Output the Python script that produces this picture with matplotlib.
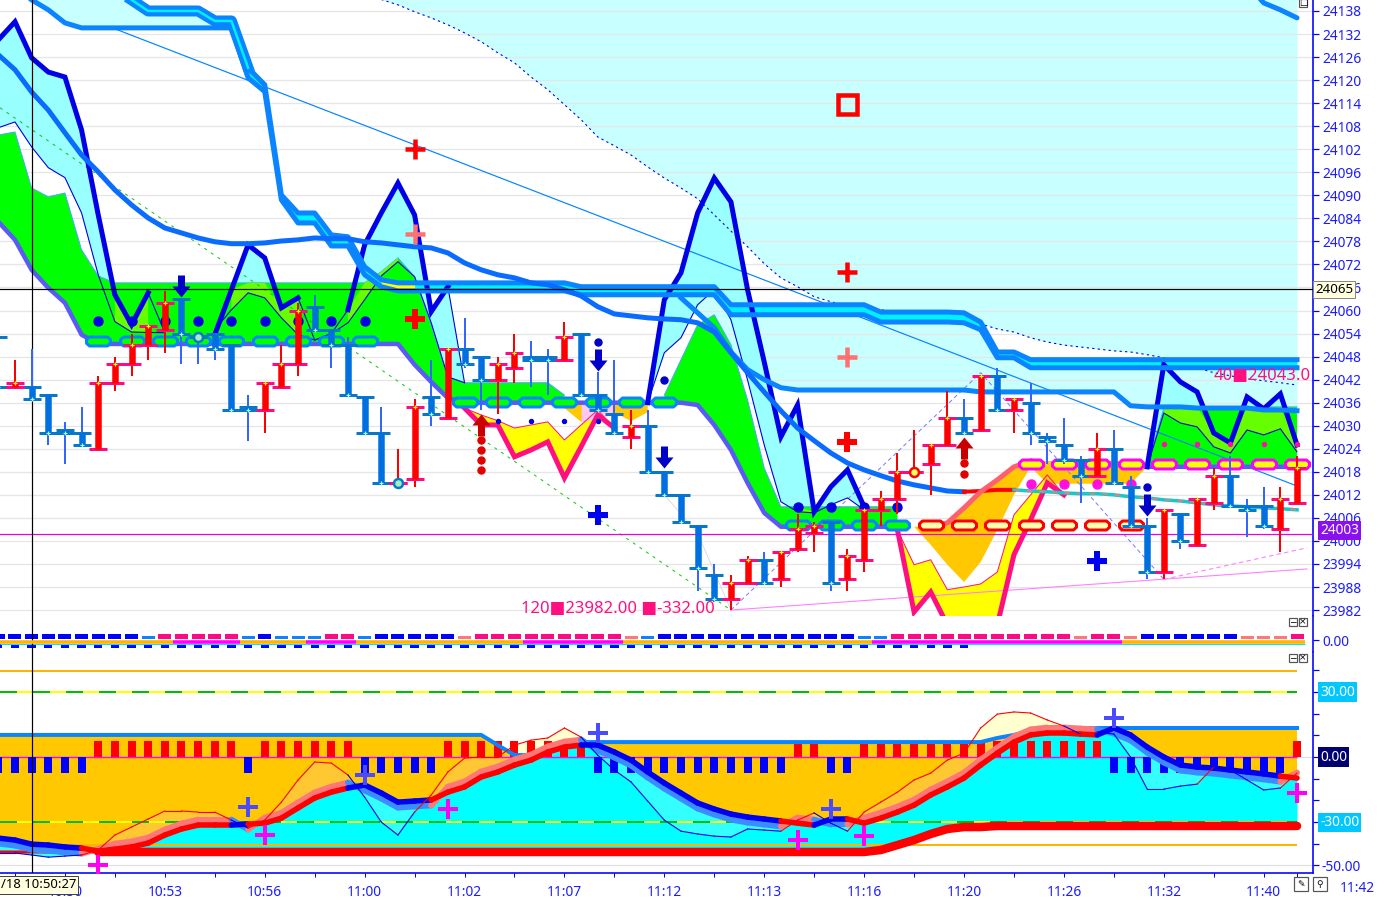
import numpy as np
import matplotlib
matplotlib.use("Agg")
import matplotlib.pyplot as plt
from matplotlib.path import Path
from matplotlib.patches import Rectangle

plt.rcParams['font.family'] = ['Noto Sans', 'DejaVu Sans']

n = np.nan
BASE = 24000
bars = np.arange(-1, 78)

# candles, prices minus BASE
opens = [53,40,40,38,29,28,24,41,46,51,55,63,53.3,54,51,35,34,40,46,61,55,51,37.5,28,15,16,37.5,32,50,48,42,45,48,48,47,54,38,33,27,30,18,12,4,-9,-15,-11,-5,-10,-2,2,5,-10,-5,8,11,18,20,25,32,29,43,34,36,27,25,21,17,24,14,4,-8,7,-1,10,17,9,9,3,10]
closes = [40,41,37,28,28,25,41,46,51,56,62,54,53,50,34,34,41,46,60,55,51,38,28,15,15,35,33,50,46,42,46,49,47,47,53,38,34,28,30,18,12,5,-7,-15,-11,-5,-11,-3,3,4,-11,-4,8,11,18,18,25,32,28,43,34,37,28,26,21,17,24,15,4,-8,8,0,11,17,9,8,4,11,19]
highs = [53,47,50,38,31,35,43,48,54,56,65,63,53.3,54,51,38,41,51,62,64,55,53,37.5,35,24,37,47,50,58,48,48,54,52,50,57,54,44,47,34,34,18,12,4,-6,-9,-4,-3,-3,7,5,5,-2,8,13,23,29,25,39,37,43,45,37,41,28,32,22,28,29,17,6,8,7,11,19,22,11,14,14,22]
lows = [40,40,37,25,20,25,24,39,43,47,49,46,46,47,34,26,28,40,43,55,45,38,28,15,15,14,30,32,45,34,33,41,40,38,47,38,34,28,24,18,12,5,-13,-16,-18,-11,-11,-12,-3,-3,-13,-13,-8,4,7,18,12,25,28,29,34,28,25,20,20,10,17,15,4,-10,-10,-2,-1,8,9,1,3,-3,10]
ring_bars = [11, 23, 54]

# upper channel and averages
fast_line = [130.5,135.2,125.8,122.1,120.8,107.0,84.9,64.1,56.3,64.6,n,n,n,53.7,65.4,77.1,73.7,60.7,63.3,n,n,60.2,77.1,85.4,93.2,84.9,59.7,66.2] + [n]*11 + [36.0,62.8,69.8,85.4,94.5,88.3,65.4,46.6,27.1,35.4,7.6,14.1,18.5,8.9] + [n]*16 + [19.3,45.9,41.4,38.8,28.1,25.5,37.5,34.4,38.3,25.0]
fast_thin_bars = [9, 18, 19, 27]
fast_thin_vals = [54.2, 52.3, 54.0, 41.2]
thin_line = [107.6,109.1,102.6,97.2,94.6,85.4,69.3,57.1,54.4,54.3,54.2,n,n,55.0,60.2,64.6,63.3,58.1,53.7,52.3,54.0,56.8,62.8,69.0,72.7,68.8,56.8,42.7,41.2] + [n]*10 + [36.0,49.0,52.9,61.5,65.4,57.6,41.9,25.0,10.2,7.6,7.3,9.4,11.2,8.1] + [n]*16 + [19.3,33.3,30.7,29.7,24.5,22.9,28.9,27.6,29.2,23.2]
green_top = [105.7,106.5,91.9,89.6,90.6,75.8,69.0] + [67.2]*16 + [70.1,73.7,68.8,56.3,42.7] + [41.2]*6 + [38.0] + [n]*5 + [38.0,47.2,56.3,58.9,51.1,36.7,19.0,8.9] + [8.9]*7 + [n]*14 + [19.3,34.6] + [34.9]*8
green_bottom = [83.1,78.4,70.6,65.9,62.0,53.7] + [51.3]*19 + [45.9,41.4,37.2] + [36.0]*14 + [35.4,30.2,23.7,15.1,7.3,3.7] + [3.7]*7 + [n]*14 + [19.3]*10
mid_curve = [126.6,122.7,116.9,112.2,106.3,100.5,96.1,91.4,87.5,84.1,81.5,80.2,78.9,77.9,77.4,77.4,77.6,78.1,78.4,78.9,78.7,78.7,77.9,77.6,77.1,76.6,76.3,75.0,72.4,70.6,69.3,68.5,67.2,66.7,65.4,63.8,61.0,59.1,58.6,58.1,57.8,57.6,56.8,54.4,49.0,43.8,38.8,33.9,29.4,26.1,22.9,20.3,18.5,17.0,15.6,14.6,13.8,13.0,12.8,13.0,13.3,13.3,13.0,12.8,12.5,12.3,12.3,12.0,11.5,11.2,10.7,10.4,9.9,9.4,9.1,8.9,8.6,8.4,8.1]
band_upper = [n,n] + [142.0]*6 + [140.9] + [138.0]*4 + [135.4,135.4,123.2,118.8,90.1,85.4,85.4,79.7,79.2,71.4,68.0] + [67.2]*11 + [66.2]*9 + [61.5]*9 + [59.6]*5 + [59.4,57.0,49.2,49.2] + [47.2]*17
band_lower = [n,n,140.9,138.3,134.9] + [133.6]*10 + [120.6,117.0,88.8,82.8,82.8,76.8,76.8,69.3,66.2] + [65.1]*11 + [64.1]*9 + [58.9]*9 + [57.0]*5 + [56.8,55.0,47.7,47.7] + [45.1]*17
base_line = [n]*41 + [63.3,59.4,55.5,49.2,44.6,42.0,39.9] + [39.3]*11 + [38.8]*9 + [35.2,34.9,34.9,34.9,34.6,34.6,34.6,34.6,34.1,34.1,33.9]
cloud_edge = [n]*23 + [141,139.6,137.8,136.2,134.4,132.3,130,127.1,124.5,120.8,117.5,113.6,109.7,105.2,102.9,100.5,97.4,94.5,91.9,89.1,84.9,80.7,76.6,72.2,68.5,66.2,63.6,62.3,61.2,60.7,60.2,59.7,59.1,58.3,57.6,57,56.5,55.2,54.4,52.9,51.8,51,50.5,50,49.5,49.2,48.5,47.7,46.4,45.1,43.8,43,42.2,41.7,41.2,40.6]
top_right_bars = [74, 75, 76, 77]
top_right_vals = [145.0, 140.1, 138.3, 136.2]
yellow_band_bars = [22, 23, 24]

# lower channel
pink_line = [n]*28 + [34.6,30.2,30.2,21.9,23.7,25.8,16.4,24.5,32.8,29.4] + [n]*16 + [2.9,-18.5,-13.3,-21.9,-21.9,-21.9,-21.9,-3.6,5.5,15.1,12.0] + [n]*14
yellow_top = [n]*28 + [34.6,32.8,31.3,29.4,30.2,31.0,26.3,30.2,34.1,29.4] + [n]*16 + [2.9,-6.2,-4.9,-12.7,-12.0,-11.2,-8.1,6.8,12.0,17.2,12.0] + [n]*14
orange_top = [n]*34 + [36.0]*6 + [n]*14 + [3.7,3.7,3.7,4.7,8.6,12.8,15.9,19.3] + [20.8]*7 + [19.3] + [n]*9
orange_low = [n]*34 + [34.6,31.0,34.1,33.5,31.2,33.5] + [n]*14 + [3.7,3.7,-1.0,-6.2,-10.7,-5.5,2.9,12.0,19.3] + [14.9]*6 + [19.3] + [n]*9
pale_pink_bars = [34, 35, 36]
pale_pink_low = [31.0, 32.0, 33.0]

# straight study lines: (bars, prices)
diag_bars, diag_vals = [1.5, 77.0], [140.9, 14.3]
green_dash_bars, green_dash_vals = [-0.9, 43.0], [112.8, -18.0]
zig_bars, zig_vals = [43, 58, 69], [-18.0, 43.8, -10.0]
pale_bars, pale_vals = [43.0, 77.6], [-18.0, -7.3]
pale_dash_bars, pale_dash_vals = [69.0, 77.6], [-10.0, -1.8]
gray_bars, gray_vals = [39, 41, 43], [12.0, 2.0, -18.0]

# capsules and dots
green_caps_1 = [5, 7, 9, 11, 13, 15, 17, 19, 21]
green_caps_2 = [27, 29, 31, 33, 35, 37, 39]
green_caps_3 = [47, 49, 51, 53]
red_caps = [55, 57, 59, 61, 63, 65, 67]
magenta_caps = [61, 63, 65, 67, 69, 71, 73, 75, 77]
caps_1_val, caps_2_val, caps_3_val, caps_4_val = 52.0, 36.2, 4.2, 20.0
blue_dots = [5, 7, 9, 11, 13, 15, 17, 19, 21]
blue_dots_val = 57.2
small_blue_dots = [29, 31, 33, 35]
small_blue_val = 31.3
low_blue_dots = [47, 49, 51, 53]
low_blue_val = 8.9
magenta_dots = [61, 63, 65, 67]
magenta_dots_val = 14.9
small_pink_dots = [69, 71, 73, 75, 77]
small_pink_val = 25.2

red_plus = ([24, 50], [102.0, 70.1])
pale_plus = ([24, 50], [80.0, 48.0])
red_bold_plus = ([24, 50], [57.8, 25.8])
blue_bold_plus = ([35, 65], [6.8, -5.2])
square_sig = ([50], [113.8])
down_arrows = ([10, 35, 39, 68], [66.4, 47.1, 21.9, 9.4])
up_arrows = ([28, 57], [30.2, 24.2])
red_dots = ([28, 28, 28, 28, 57, 57], [26.3, 23.7, 21.1, 18.4, 20.3, 17.5])
navy_dots = ([35, 39, 68], [51.8, 42.0, 14.1])

# second pane
top_state = list('bbbbbbbbb' 'l' 'ppppp' 'l' 'b' 'lll' 'pp' 'l' 'bbbbb' 's' 'ppppppppp' 's' 'l' 'bbbbbbbbbbbb' 'll' 'ppppppppppp' 's' 'pp' 's' 'bbbbbb' 'sss' 'p')
lower_dash_last = 57
magenta_runs = [(10, 13), (18, 20), (31, 36), (52, 66)]

# third pane
up_runs = [(5, 13), (15, 20), (26, 34), (47, 48), (51, 65), (77, 77)]
upper_level = [10.2]*30 + [5.5,0.9,0.9,2.3,4.2] + [6.9]*25 + [8.8,10.2,12.0] + [13.4]*16
osc = [-37.4,-38.3,-40.2,-40.6,-41.5,-42,-43.4,-42.5,-41.5,-39.7,-36,-33.2,-31.4,-31.4,-31.4,-30.9,-30.5,-28.2,-23.5,-18.9,-16.2,-14.3,-12.9,-16.6,-20.8,-20.3,-19.8,-16.2,-13.8,-9.2,-6.9,-3.7,-1.4,2.3,4.6,5.5,5.5,2.3,-1.4,-6.9,-12,-16.6,-21.2,-24,-26.3,-27.7,-28.6,-29.5,-30.5,-31.4,-28.6,-28.6,-30.5,-28.2,-25.4,-22.2,-17.5,-13.8,-9.7,-3.7,1.8,6.9,10.2,11.1,11.1,10.6,10.2,13.4,10.2,4.6,0,-3.7,-4.6,-5.1,-6,-6.9,-7.8,-8.8,-9.7]
osc_band = [-39.9,-40.8,-42.7,-43.1,-44,-44.5,-42.4,-40,-39,-37.2,-33.5,-30.7,-28.9,-28.9,-28.9,-33.4,-28,-25.7,-21,-16.4,-13.7,-11.8,-15.4,-19.1,-23.3,-22.8,-22.3,-13.7,-11.3,-6.7,-4.4,-1.2,1.1,4.8,7.1,8,3,-0.2,-3.9,-9.4,-14.5,-19.1,-23.7,-26.5,-28.8,-30.2,-31.1,-32,-28,-28.9,-31.1,-31.1,-28,-25.7,-22.9,-19.7,-15,-11.3,-7.2,-1.2,4.3,9.4,12.7,13.6,13.6,13.1,12.7,10.9,7.7,2.1,-2.5,-6.2,-7.1,-7.6,-8.5,-9.4,-10.3,-11.3,-7.2]
osc_thin = [-44.3,-44.3,-45.2,-46.2,-45.7,-45.2,-42.9,-36,-32.3,-28.6,-24.9,-24.9,-25.4,-25.4,-29.1,-32.8,-29.1,-20.8,-10.6,-2.3,-2.8,-8.3,-18.5,-30,-36,-25.4,-17.5,-6.9,-0.5,0,0,5.5,7.8,8.8,13.4,9.2,0.9,-6,-11.5,-20.3,-29.1,-34.2,-35.5,-36.5,-36.9,-33.2,-33.7,-34.2,-29.1,-25.8,-30.5,-34.2,-25.4,-20.8,-16.2,-10.6,-7.4,-1.4,1.8,13.4,19.8,20.8,20.3,17.1,14.3,10.6,11.5,10.6,0,-14.8,-14.8,-13.4,-12.5,-4.6,-6,-10.6,-15.2,-14.3,-7.4]
floor_line = [-43.8]*53 + [-42.9,-40.6,-38.3,-35.5,-33.2,-32.3,-32.3] + [-31.8]*19
blue_plus_3 = ([14, 21, 35, 49, 66], [-23.1, -8.3, 11.1, -24.0, 18.0])
magenta_plus_3 = ([5, 15, 26, 47, 51, 77], [-49.8, -36.0, -24.0, -38.3, -36.5, -16.6])

price_ticks = list(range(23982, 24139, 6))
osc_ticks = [40, 30, 20, 10, 0, -10, -20, -30, -40, -50]
time_bars = [3, 9, 15, 21, 27, 33, 39, 45, 51, 57, 63, 69, 75]
time_labels = ['10:50', '10:53', '10:56', '11:00', '11:02', '11:07', '11:12', '11:13', '11:16', '11:20', '11:26', '11:32', '11:40']

W, H = 1384, 900
BLUE_TXT = '#1c1cff'
AXIS_BLUE = '#0000ff'
LINE_BLUE = '#0a84ff'


def px(v):
    return v * 0.72


def pane(top, bottom, right=1313):
    ax = fig.add_axes([0, 1 - bottom / H, right / W, (bottom - top) / H])
    ax.set_xlim(-0.90, 77.96)
    for s in ['top', 'left', 'bottom']:
        ax.spines[s].set_visible(False)
    ax.spines['right'].set_color(AXIS_BLUE)
    ax.spines['right'].set_linewidth(px(1.6))
    ax.yaxis.tick_right()
    ax.tick_params(axis='y', colors=AXIS_BLUE, labelcolor=BLUE_TXT, length=px(6), width=px(1.2), pad=px(3), labelsize=9.9)
    ax.set_xticks([])
    return ax


def capsule_path():
    return Path([(-12, -1.8), (-9, -4.5), (9, -4.5), (12, -1.8), (12, 1.8), (9, 4.5), (-9, 4.5), (-12, 1.8), (-12, -1.8)], closed=True)


def arrow_path(down=True):
    s = 1 if down else -1
    return Path([(-3.5, 11*s), (3.5, 11*s), (3.5, 0), (9, 0), (0, -11*s), (-9, 0), (-3.5, 0), (-3.5, 11*s)], closed=True)


def runs_mask(runs):
    mask = np.zeros(len(bars), dtype=bool)
    for a, b in runs:
        mask[(bars >= a) & (bars <= b)] = True
    return mask


def small_box(x, y, size, label=None, face='white'):
    fig.add_artist(Rectangle((x / W, 1 - (y + size) / H), size / W, size / H, transform=fig.transFigure, fc=face, ec='#555555', lw=px(1.2), zorder=20))
    if label:
        fig.text((x + size / 2) / W, 1 - (y + size / 2) / H, label, ha='center', va='center', fontsize=6.5, color='black', zorder=21, family='DejaVu Sans')


fig = plt.figure(figsize=(W / 100, H / 100), dpi=100, facecolor='white')

# ---- main pane
ax = pane(0, 616)
ax.set_ylim(23980.45, 24140.86)
ax.set_yticks(price_ticks)
ax.set_yticklabels([str(t) for t in price_ticks])

to_price = lambda v: BASE + np.array(v, dtype=float)
fast = to_price(fast_line)
fast_edge = fast.copy()
fast_edge[np.array(fast_thin_bars) + 1] = to_price(fast_thin_vals)
thin = to_price(thin_line)
gtop = to_price(green_top)
gbot = to_price(green_bottom)
mid = to_price(mid_curve)
up1 = to_price(band_upper)
low1 = to_price(band_lower)
base = to_price(base_line)
edge = to_price(cloud_edge)
pink = to_price(pink_line)
ytop = to_price(yellow_top)
otop = to_price(orange_top)
olow = to_price(orange_low)

ok = np.isfinite
ax.fill_between(bars, edge, 24142, where=ok(edge), color='#c8ffff', lw=0, zorder=1)
ax.fill_between(bars, low1, base, where=ok(base), color='#c8ffff', lw=0, zorder=1)
for t in price_ticks:
    ax.axhline(t, color='#e6e6e6', lw=px(1.3), zorder=1.5)

ax.fill_between(bars, fast_edge, thin, where=ok(fast_edge) & ok(thin), color='#99ffff', lw=0, zorder=2)
ax.fill_between(bars, gtop, gbot, where=ok(gtop) & ok(gbot), color='#00ff00', lw=0, zorder=2.1)
ax.plot(bars, gtop, color='#4aa8ff', lw=px(1), zorder=2.15)
lime_top = np.minimum(fast_edge, gtop)
lime_bot = np.maximum(thin, gbot)
lime = ok(lime_top) & ok(lime_bot)
lime[lime] = lime_top[lime] > lime_bot[lime]
ax.fill_between(bars, lime_top, lime_bot, where=lime, color='#66ff00', lw=0, zorder=2.2)

ax.fill_between(bars, ytop, pink, where=ok(pink), color='#ffff00', lw=0, zorder=2.1)
ax.fill_between(bars, otop, olow, where=ok(otop), color='#ffc800', lw=0, zorder=2.15)
ax.fill_between(pale_pink_bars, BASE + 36.0, BASE + np.array(pale_pink_low), color='#ffc8f0', lw=0, zorder=2.16)
ax.plot(bars, ytop, color='#ff1080', lw=px(1), zorder=2.3)
ax.plot(bars, pink, color='#ff1080', lw=px(5), zorder=2.6, solid_joinstyle='miter')

ax.plot(np.array(diag_bars), BASE + np.array(diag_vals), color=LINE_BLUE, lw=px(1.2), zorder=2.5)
ax.plot(green_dash_bars, BASE + np.array(green_dash_vals), color='#10c810', lw=px(1), ls=(0, (3, 5)), zorder=2.5)
ax.plot(zig_bars, BASE + np.array(zig_vals), color='#7a7aff', lw=px(1), ls=(0, (4, 3)), zorder=2.5)
ax.plot(pale_bars, BASE + np.array(pale_vals), color='#ff80ff', lw=px(1.1), zorder=2.5)
ax.plot(pale_dash_bars, BASE + np.array(pale_dash_vals), color='#ff80ff', lw=px(1.1), ls=(0, (4, 3)), zorder=2.5)
ax.plot(gray_bars, BASE + np.array(gray_vals), color='#dddddd', lw=px(1), zorder=2.4)
ax.plot(bars, edge, color='#0000e0', lw=px(1.1), ls=(0, (2, 3)), zorder=2.5)

ax.plot(bars, thin, color='#0000e0', lw=px(1.1), zorder=2.7)
ax.plot(bars, fast_edge, color='#0000e0', lw=px(1.1), zorder=2.7)
ax.plot(bars, fast, color='#0000e6', lw=px(5), zorder=3, solid_joinstyle='miter')
ax.plot(bars, gbot, color='#5a5af5', lw=px(4.5), zorder=2.8)

ax.fill_between(bars, up1, low1, where=ok(up1) & (bars <= 13), color='#c8ffff', lw=0, zorder=2.9)
ax.fill_between(bars, up1, low1, where=ok(up1) & (bars >= 13), color='#00f0ff', lw=0, zorder=2.9)
band_yellow = np.isin(bars, yellow_band_bars)
ax.fill_between(bars, up1, low1, where=band_yellow, color='#ffff00', lw=0, zorder=2.95)
ax.plot(bars, up1, color=LINE_BLUE, lw=px(5), zorder=3.1)
ax.plot(bars, low1, color=LINE_BLUE, lw=px(5), zorder=3.1)
ax.plot(bars, base, color=LINE_BLUE, lw=px(5), zorder=3.1)
pair = (bars >= 7) & (bars <= 14)
ax.plot(bars[pair], up1[pair], color=LINE_BLUE, lw=px(11), zorder=3.12)
ax.plot(bars[pair], up1[pair], color='#00f0ff', lw=px(2.5), zorder=3.13)

blue_part = bars <= 57
ax.plot(bars[blue_part], mid[blue_part], color='#0a6cff', lw=px(5), zorder=3.2)
red_part = (bars >= 57) & (bars <= 60)
ax.plot(bars[red_part], mid[red_part], color='#ff0000', lw=px(4), zorder=3.2)
teal_part = bars >= 60
ax.plot(bars[teal_part], mid[teal_part], color='#18c8c8', lw=px(3.5), zorder=3.2)
ax.plot(bars[teal_part], mid[teal_part], color='#ff7878', lw=px(1.4), ls=(0, (4, 5)), zorder=3.25)
k_part = (bars >= 55) & (bars <= 61)
ax.plot(bars[k_part], otop[k_part], color='#ff6070', lw=px(5), zorder=3.2)
ax.plot(top_right_bars, BASE + np.array(top_right_vals), color=LINE_BLUE, lw=px(5), zorder=3.2, solid_capstyle='round')

# crosshair and price lines
ax.axhline(24065.6, color='black', lw=px(1.2), zorder=3.5)
ax.axhline(24001.9, color='#e800e8', lw=px(1.2), zorder=3.5)
ax.axvline(1, color='black', lw=px(1.2), zorder=3.5)

# capsules
caps = capsule_path()
cap_sets = [(green_caps_1, caps_1_val, '#00ff00', LINE_BLUE), (green_caps_2, caps_2_val, '#00ff00', LINE_BLUE),
            (green_caps_3, caps_3_val, '#00ff00', LINE_BLUE), (red_caps, caps_3_val, '#ffffb0', '#ff0000'),
            (magenta_caps, caps_4_val, '#ffff00', '#ff00ff')]
for xs, val, face, edgec in cap_sets:
    ax.plot(xs, [BASE + val]*len(xs), ls='none', marker=caps, ms=px(24), mfc=face, mec=edgec, mew=px(3), zorder=4)

ax.plot(blue_dots, [BASE + blue_dots_val]*len(blue_dots), ls='none', marker='o', ms=px(9), color='#0000e0', zorder=4.1)
ax.plot(small_blue_dots, [BASE + small_blue_val]*len(small_blue_dots), ls='none', marker='o', ms=px(4), color='#0000e0', zorder=4.1)
ax.plot(low_blue_dots, [BASE + low_blue_val]*len(low_blue_dots), ls='none', marker='o', ms=px(9), color='#0000e0', zorder=4.1)
ax.plot(magenta_dots, [BASE + magenta_dots_val]*len(magenta_dots), ls='none', marker='o', ms=px(9), color='#ff10e0', zorder=4.1)
ax.plot(small_pink_dots, [BASE + small_pink_val]*len(small_pink_dots), ls='none', marker='o', ms=px(4), color='#ff10a0', zorder=4.1)

# candles
o = to_price(opens)
c = to_price(closes)
h = to_price(highs)
l = to_price(lows)
is_red = c >= o
for mask, wick, body, tick, mark in [(~is_red, '#3366ff', '#0070e0', '#0a78c8', '#a0ffd0'), (is_red, '#ff0000', '#ff0000', '#ff0a82', '#ffff00')]:
    ax.vlines(bars[mask], l[mask], h[mask], color=wick, lw=px(2), zorder=5)
    ax.vlines(bars[mask], o[mask], c[mask], color=body, lw=px(6.5), zorder=5.1)
    ax.plot(bars[mask], o[mask], ls='none', marker='_', ms=px(18), mew=px(3), color=tick, zorder=5.05)
    ax.plot(bars[mask], c[mask], ls='none', marker='_', ms=px(18), mew=px(3), color=tick, zorder=5.05)
    ax.plot(bars[mask], c[mask], ls='none', marker='+', ms=px(5), mew=px(1.2), color=mark, zorder=5.3)
for b in ring_bars:
    i = b + 1
    ring_edge = '#ff0000' if is_red[i] and b == 54 else '#0a78c8'
    ring_face = '#ffff60' if b == 54 else '#a0f0c0'
    ax.plot([b], [c[i]], ls='none', marker='o', ms=px(9), mfc=ring_face, mec=ring_edge, mew=px(2.5), zorder=5.4)

# signal marks
ax.plot(red_plus[0], BASE + np.array(red_plus[1]), ls='none', marker='+', ms=px(20), mew=px(4.5), color='#ff0000', zorder=6)
ax.plot(pale_plus[0], BASE + np.array(pale_plus[1]), ls='none', marker='+', ms=px(20), mew=px(4.5), color='#ff7070', zorder=6)
ax.plot(red_bold_plus[0], BASE + np.array(red_bold_plus[1]), ls='none', marker='P', ms=px(20), mew=0, color='#ff0000', zorder=6)
ax.plot(blue_bold_plus[0], BASE + np.array(blue_bold_plus[1]), ls='none', marker='P', ms=px(20), mew=0, color='#0000f0', zorder=6)
ax.plot(square_sig[0], BASE + np.array(square_sig[1]), ls='none', marker='s', ms=px(19), mfc='none', mec='#ff0000', mew=px(4.5), zorder=6)
ax.plot(down_arrows[0], BASE + np.array(down_arrows[1]), ls='none', marker=arrow_path(True), ms=px(22), mew=0, color='#0000c8', zorder=6)
ax.plot(up_arrows[0], BASE + np.array(up_arrows[1]), ls='none', marker=arrow_path(False), ms=px(22), mew=0, color='#c80000', zorder=6)
ax.plot(red_dots[0], BASE + np.array(red_dots[1]), ls='none', marker='o', ms=px(7), color='#e00000', zorder=6)
ax.plot(navy_dots[0], BASE + np.array(navy_dots[1]), ls='none', marker='o', ms=px(7), color='#0000c8', zorder=6)

ax.text(30.4, 23982.3, '120\u25a023982.00 \u25a0-332.00', color='#ff1080', fontsize=12, va='center', ha='left', zorder=7)
ax.text(72.0, 24043.0, '40\u25a024043.0', color='#ff1080', fontsize=12, va='center', ha='left', zorder=7)

box_x = ax.get_yaxis_transform()
ax.text(1.0015, 24065.4, '24065', transform=box_x, color='black', fontsize=9.6, fontweight='bold', va='center', ha='left', clip_on=False, zorder=9,
        bbox=dict(fc='#ffffe0', ec='#888888', lw=px(1), pad=1.5))
ax.text(1.0055, 24002.7, '24003', transform=box_x, color='white', fontsize=9.9, va='center', ha='left', clip_on=False, zorder=9,
        bbox=dict(fc='#8a10f0', ec='#8a10f0', lw=0, pad=1.5))

# ---- second pane
ax2 = pane(616, 652)
ax2.set_ylim(-12, 24)
ax2.set_yticks([0])
ax2.set_yticklabels(['0.00'])
state_color = {'b': '#0000ff', 'l': '#0a84ff', 'p': '#ff0a82', 's': '#ff7878'}
state_height = {'b': 5, 'l': 3, 'p': 5, 's': 3}
ax2.bar(bars, [state_height[s] for s in top_state], bottom=1, width=0.78, color=[state_color[s] for s in top_state], lw=0)
line_mask = runs_mask(magenta_runs)
ax2.hlines(-3.6, -0.9, 77.5, color='#00e8f0', lw=px(1), zorder=2)
ax2.hlines([-1.6]*len(bars), bars - 0.5, bars + 0.5, color=np.where(line_mask, '#ff00ff', '#ffb400'), lw=px(3.6), zorder=3)
low_mask = bars <= lower_dash_last
ax2.bar(bars[low_mask], [-4]*low_mask.sum(), bottom=-4, width=0.5, color='#0000ff', lw=0)
ax2.axvline(1, color='black', lw=px(1.2))

# ---- third pane
ax3 = pane(652, 873)
ax3.set_ylim(-53.5, 48.46)
ax3.set_yticks(osc_ticks)
ax3.set_yticklabels(['' if t != -50 else '-50.00' for t in osc_ticks])
ax3.spines['bottom'].set_visible(True)
ax3.spines['bottom'].set_color(AXIS_BLUE)
ax3.spines['bottom'].set_linewidth(px(1.6))
ax3.set_xticks(time_bars)
ax3.set_xticklabels(time_labels)
ax3.set_xticks([b - 3 for b in time_bars] + [78 - 1], minor=True)
ax3.tick_params(axis='x', which='both', colors=AXIS_BLUE, labelcolor=BLUE_TXT, length=px(4), width=px(1), pad=px(8), labelsize=9.9)

upper = np.array(upper_level, dtype=float)
v = np.array(osc, dtype=float)
v2 = np.array(osc_band, dtype=float)
x3 = np.array(osc_thin, dtype=float)
floor = np.array(floor_line, dtype=float)
is_up = runs_mask(up_runs)

ax3.fill_between(bars, x3, v, where=x3 > v, interpolate=True, color='#ffffd0', lw=0, zorder=1)
ax3.fill_between(bars, upper, v, where=upper > v, interpolate=True, color='#ffc800', lw=0, zorder=1.1)
capped = np.minimum(x3, upper)
ax3.fill_between(bars, capped, v, where=capped > v, interpolate=True, color='#ffc833', lw=0, zorder=1.2)
ax3.fill_between(bars, v, floor, where=v > floor, interpolate=True, color='#00ffff', lw=0, zorder=1.1)
ax3.fill_between(bars, x3, v, where=x3 < v, interpolate=True, color='#33ffff', lw=0, zorder=1.2)

ax3.axhline(0, color='#e0e0e0', lw=px(1.2), zorder=0.5)
ax3.axhline(-50, color='#e0e0e0', lw=px(1.2), zorder=0.5)
for lev in (39.7, -40.6):
    ax3.hlines(lev, -0.9, 77, color='#ffb400', lw=px(2), zorder=1.5)
for lev in (30, -30):
    ax3.hlines(lev, -0.9, 77, color='#ffff00', lw=px(2), zorder=1.5)
    ax3.plot([-0.9, 77], [lev, lev], color='#00c000', lw=px(2), ls=(0, (8.5, 8)), zorder=1.6)

ax3.hlines(0, -0.9, 77, color='#ff00ff', lw=px(1.4), zorder=2)
momentum = np.where(is_up, 7.5, -7.5)
ax3.bar(bars, momentum, width=0.48, color=np.where(is_up, '#ff0000', '#0000ff'), lw=0, zorder=2.2)

ax3.plot(bars, upper, color=LINE_BLUE, lw=px(4), zorder=2.5)
ax3.plot(bars, floor, color='#ff0000', lw=px(3), zorder=2.6)
thick = bars >= 5
ax3.plot(bars[thick], floor[thick], color='#ff0000', lw=px(8.5), zorder=2.6, solid_capstyle='round')

for k in range(len(bars) - 1):
    seg = bars[k:k + 2]
    state = is_up[k + 1]
    ax3.plot(seg, v2[k:k + 2], color='#ff7878' if state else '#3c8cff', lw=px(6), zorder=2.8, solid_capstyle='round')
for k in range(len(bars) - 1):
    seg = bars[k:k + 2]
    state = is_up[k + 1]
    ax3.plot(seg, v[k:k + 2], color='#ff0000' if state else '#0000f0', lw=px(5.5), zorder=2.9, solid_capstyle='round')
    above = x3[k + 1] > v[k + 1]
    ax3.plot(seg, x3[k:k + 2], color='#ff0000' if above else '#0000e0', lw=px(1.1), zorder=3)

ax3.plot(blue_plus_3[0], blue_plus_3[1], ls='none', marker='+', ms=px(20), mew=px(4), color='#4a4aff', zorder=6)
ax3.plot(magenta_plus_3[0], magenta_plus_3[1], ls='none', marker='+', ms=px(20), mew=px(4), color='#ff00f0', zorder=6)
ax3.axvline(1, color='black', lw=px(1.2), zorder=7)

box3 = ax3.get_yaxis_transform()
for val, label, face in [(30, '30.00', '#00c8ff'), (-30, '-30.00', '#00c8ff'), (0, '0.00', '#000070')]:
    ax3.text(1.0055, val, label, transform=box3, color='white', fontsize=9.9, va='center', ha='left', clip_on=False, zorder=9,
             bbox=dict(fc=face, ec=face, lw=0, pad=1.5))

fig.text(1357 / W, 1 - 889 / H, '11:42', color=BLUE_TXT, fontsize=9.9, ha='center', va='center')
fig.text(1 / W, 1 - 885 / H, '/18 10:50:27', color='black', fontsize=9.4, fontweight='bold', ha='left', va='center', zorder=15,
         bbox=dict(fc='#ffffe0', ec='#444444', lw=px(1), pad=1.5))

for x, y, mark in [(1289, 618, '\u2212'), (1299, 618, '\u00d7'), (1289, 654, '\u2212'), (1299, 654, '\u00d7'), (1299, -1, '\u25a1')]:
    small_box(x, y, 8, mark)
small_box(1294, 877, 14, '\u270e')
small_box(1313, 877, 14, '\u26b2')

fig.savefig('out.png', dpi=100)
